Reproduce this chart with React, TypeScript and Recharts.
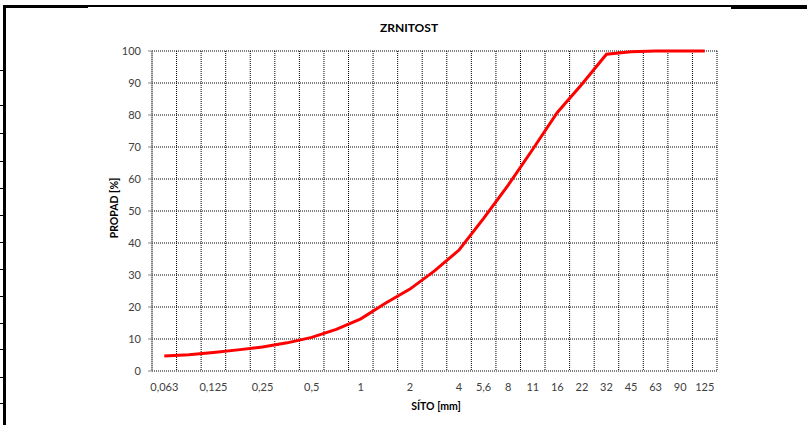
import { CartesianGrid, Line, LineChart, XAxis, YAxis } from "recharts";

// Sita (kategorie osy x) – prazdne retezce jsou mezikroky bez popisku
const SIEVES = [
  "0,063", "", "0,125", "", "0,25", "", "0,5", "", "1", "", "2", "",
  "4", "5,6", "8", "11", "16", "22", "32", "45", "63", "90", "125",
];

// Propad [%] na jednotlivych sitech
const PASSING = [
  4.7, 5.1, 5.8, 6.6, 7.5, 8.8, 10.5, 13.0, 16.3, 21.2, 25.6, 31.3,
  37.8, 47.7, 58.1, 69.3, 80.8, 89.6, 99.0, 99.8, 100, 100, 100,
];

const Y_TICKS = [0, 10, 20, 30, 40, 50, 60, 70, 80, 90, 100];

// hranice kategorii (mrizka) a stredy kategorii (popisky)
const BOUNDS = SIEVES.map((_, i) => i).concat([SIEVES.length]);
const CENTERS = SIEVES.map((_, i) => i + 0.5);

const data = SIEVES.map((s, i) => ({ x: i + 0.5, sieve: s, passing: PASSING[i] }));

const ROW_MARKS = [70, 105, 133, 161, 188, 215, 242, 269, 296, 323, 349, 377, 403];

const FONT = "Lato, 'Open Sans', sans-serif";

export default function App() {
  return (
    <div
      style={{
        position: "absolute",
        left: 0,
        top: 0,
        width: 807,
        height: 425,
        background: "#fff",
        overflow: "hidden",
        fontFamily: FONT,
      }}
    >
      {/* ramecek listu */}
      <div style={{ position: "absolute", left: 3, top: 5, width: 804, height: 2, background: "#000" }} />
      <div style={{ position: "absolute", left: 3, top: 5, width: 85, height: 3, background: "#000" }} />
      <div style={{ position: "absolute", left: 731, top: 5, width: 76, height: 4, background: "#000" }} />
      <div style={{ position: "absolute", left: 3, top: 5, width: 3, height: 420, background: "#000" }} />
      {ROW_MARKS.map((y) => (
        <div key={y} style={{ position: "absolute", left: 0, top: y, width: 3, height: 1, background: "#000" }} />
      ))}

      <LineChart
        width={807}
        height={425}
        data={data}
        margin={{ top: 51, right: 90, bottom: 24, left: 112 }}
        style={{ position: "absolute", left: 0, top: 0 }}
      >
        <CartesianGrid stroke="#000" strokeDasharray="1 1" />
        <XAxis
          dataKey="x"
          type="number"
          domain={[0, SIEVES.length]}
          ticks={BOUNDS}
          interval={0}
          height={0}
          tickSize={5}
          tick={() => <g />}
          stroke="#868686"
        />
        <XAxis
          xAxisId="lbl"
          dataKey="x"
          type="number"
          domain={[0, SIEVES.length]}
          ticks={CENTERS}
          interval={0}
          height={30}
          axisLine={false}
          tickLine={false}
          tickSize={6}
          tickMargin={6}
          tickFormatter={(v: number) => SIEVES[Math.round(v - 0.5)]}
          tick={{ fill: "#404040", fontSize: 11, fontFamily: FONT }}
        />
        <YAxis
          type="number"
          domain={[0, 100]}
          ticks={Y_TICKS}
          interval={0}
          width={40}
          tickSize={4}
          tickMargin={7}
          stroke="#868686"
          tick={{ fill: "#404040", fontSize: 11, fontFamily: FONT }}
        />
        <Line
          type="linear"
          dataKey="passing"
          stroke="#ff0000"
          strokeWidth={3}
          dot={false}
          isAnimationActive={false}
        />
      </LineChart>

      <div
        style={{
          position: "absolute",
          left: 309,
          top: 20,
          width: 200,
          textAlign: "center",
          fontSize: 12,
          fontWeight: 700,
          color: "#000",
        }}
      >
        ZRNITOST
      </div>
      <div
        style={{
          position: "absolute",
          left: 336,
          top: 400,
          width: 200,
          textAlign: "center",
          fontSize: 10.5,
          fontWeight: 700,
          color: "#000",
        }}
      >
        SÍTO [mm]
      </div>
      <div
        style={{
          position: "absolute",
          left: 64,
          top: 202,
          width: 100,
          textAlign: "center",
          fontSize: 10.5,
          fontWeight: 700,
          color: "#000",
          transform: "rotate(-90deg)",
        }}
      >
        PROPAD [%]
      </div>
    </div>
  );
}
